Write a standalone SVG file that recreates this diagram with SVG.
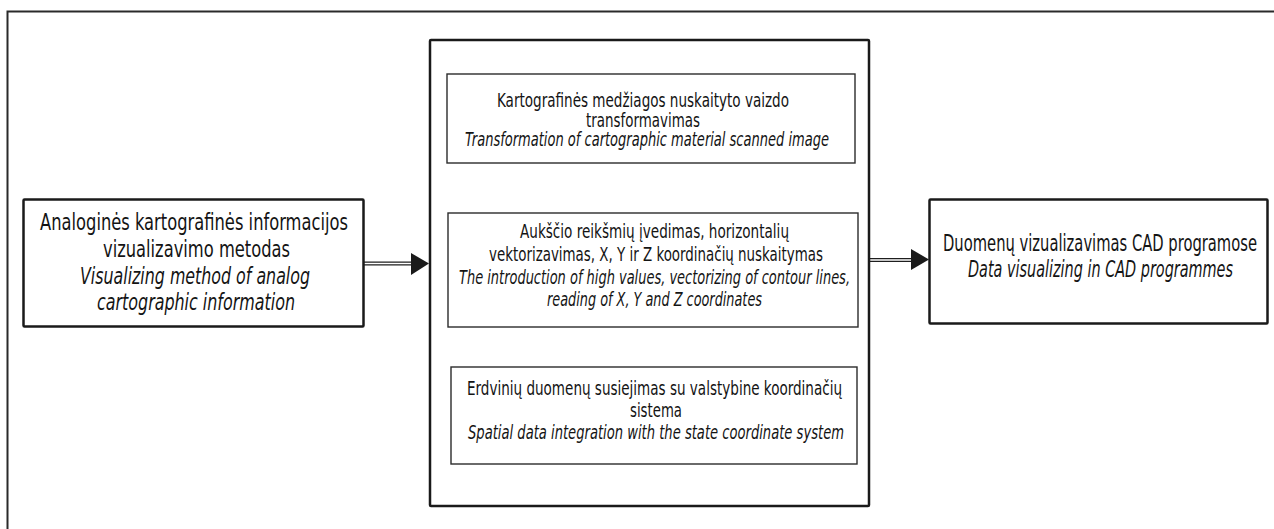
<svg xmlns="http://www.w3.org/2000/svg" width="1274" height="529" viewBox="0 0 1274 529">
  <defs>
    <style>
      .frame { fill: none; stroke: #2a2a2a; stroke-width: 2; }
      .box { fill: #ffffff; stroke: #1a1a1a; stroke-width: 2.5; }
      .inner { fill: #ffffff; stroke: #2b2b2b; stroke-width: 1.4; }
      .dbl-outer { fill: none; stroke: #1e1e1e; stroke-width: 4.2; }
      .dbl-inner { fill: none; stroke: #ffffff; stroke-width: 1.6; }
      .head { fill: #1a1a1a; }
      text { font-family: "DejaVu Sans", "Liberation Sans", sans-serif; font-stretch: condensed; fill: #141414; text-anchor: middle; }
      .big { font-size: 23px; }
      .small { font-size: 20px; }
      .it { font-style: italic; }
    </style>
  </defs>

  <rect x="0" y="0" width="1274" height="529" fill="#ffffff"/>

  <!-- open page frame: top and left rules only -->
  <path class="frame" d="M7.5,529 V11.5 H1274"/>

  <!-- connectors -->
  <g id="connectors">
    <!-- source box to process block -->
    <path class="dbl-outer" d="M363,263.5 H414"/>
    <path class="dbl-inner" d="M363,263.5 H414"/>
    <polygon class="head" points="411,253 429,263.5 411,275"/>

    <!-- process block to output box -->
    <path class="dbl-outer" d="M869,260 H913"/>
    <path class="dbl-inner" d="M869,260 H913"/>
    <polygon class="head" points="911,249 929,259.5 911,270"/>

    <!-- steps inside the process block -->
    <path class="dbl-outer" d="M649.8,163 V213"/>
    <path class="dbl-inner" d="M649.8,163 V213"/>
    <path class="dbl-outer" d="M653.7,327 V367"/>
    <path class="dbl-inner" d="M653.7,327 V367"/>
  </g>

  <g id="node-source">
    <rect class="box" x="23.5" y="199.5" width="340" height="127" rx="1"/>
    <text class="big" x="194" y="230" textLength="308" lengthAdjust="spacingAndGlyphs">Analoginės kartografinės informacijos</text>
    <text class="big" x="196.5" y="257" textLength="187" lengthAdjust="spacingAndGlyphs">vizualizavimo metodas</text>
    <text class="big it" x="195" y="284" textLength="230" lengthAdjust="spacingAndGlyphs">Visualizing method of analog</text>
    <text class="big it" x="196" y="310" textLength="198" lengthAdjust="spacingAndGlyphs">cartographic information</text>
  </g>

  <g id="node-process">
    <rect class="box" x="430" y="40" width="439" height="466" rx="1"/>
  </g>

  <g id="node-transform">
    <rect class="inner" x="447" y="74" width="408" height="89"/>
    <text class="small" x="643" y="107" textLength="292" lengthAdjust="spacingAndGlyphs">Kartografinės medžiagos nuskaityto vaizdo</text>
    <text class="small" x="643" y="127" textLength="114" lengthAdjust="spacingAndGlyphs">transformavimas</text>
    <text class="small it" x="647" y="145.5" textLength="364" lengthAdjust="spacingAndGlyphs">Transformation of cartographic material scanned image</text>
  </g>

  <g id="node-vectorize">
    <rect class="inner" x="448" y="213" width="410" height="114"/>
    <text class="small" x="654.5" y="238" textLength="269" lengthAdjust="spacingAndGlyphs">Aukščio reikšmių įvedimas, horizontalių</text>
    <text class="small" x="656" y="261" textLength="334" lengthAdjust="spacingAndGlyphs">vektorizavimas, X, Y ir Z koordinačių nuskaitymas</text>
    <text class="small it" x="654.5" y="283.5" textLength="391" lengthAdjust="spacingAndGlyphs">The introduction of high values, vectorizing of contour lines,</text>
    <text class="small it" x="654.5" y="305.5" textLength="215" lengthAdjust="spacingAndGlyphs">reading of X, Y and Z coordinates</text>
  </g>

  <g id="node-georef">
    <rect class="inner" x="451" y="367" width="406" height="97"/>
    <text class="small" x="654.5" y="395" textLength="375" lengthAdjust="spacingAndGlyphs">Erdvinių duomenų susiejimas su valstybine koordinačių</text>
    <text class="small" x="656" y="417" textLength="52" lengthAdjust="spacingAndGlyphs">sistema</text>
    <text class="small it" x="656" y="438.5" textLength="376" lengthAdjust="spacingAndGlyphs">Spatial data integration with the state coordinate system</text>
  </g>

  <g id="node-output">
    <rect class="box" x="929.5" y="199.5" width="338" height="124" rx="1"/>
    <text class="big" x="1100" y="251" textLength="314" lengthAdjust="spacingAndGlyphs">Duomenų vizualizavimas CAD programose</text>
    <text class="big it" x="1100.5" y="277" textLength="265" lengthAdjust="spacingAndGlyphs">Data visualizing in CAD programmes</text>
  </g>
</svg>
